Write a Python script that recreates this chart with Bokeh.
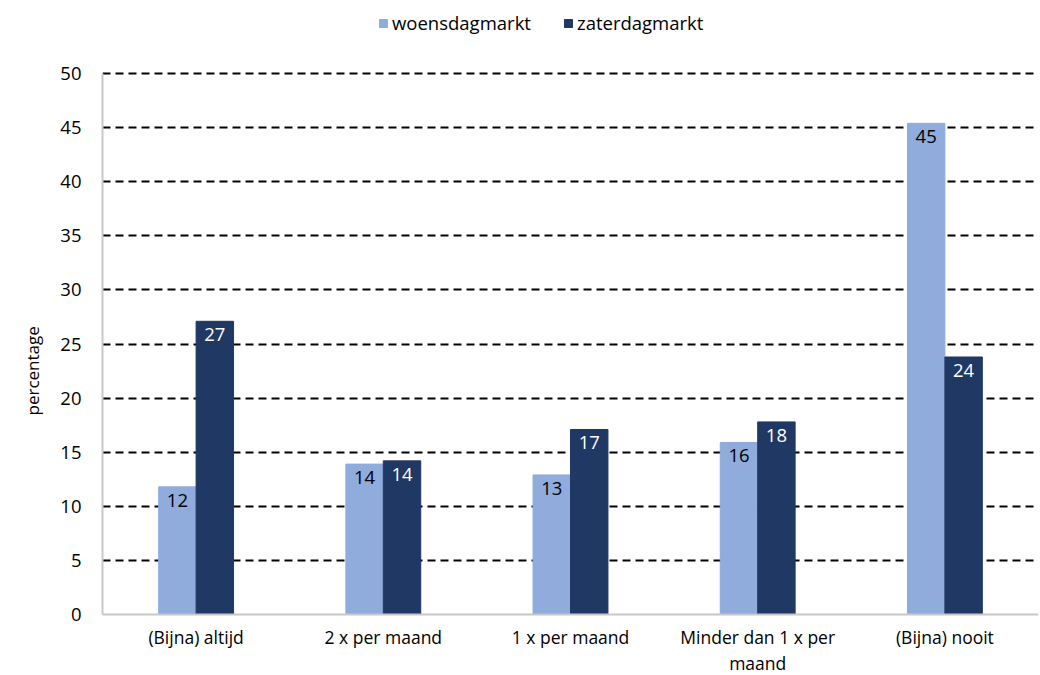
from bokeh.plotting import figure
from bokeh.models import (ColumnDataSource, FactorRange, Legend, LegendItem, FixedTicker, Title)
from bokeh.transform import dodge
from bokeh.core.properties import value
from bokeh.embed import file_html
from bokeh.resources import INLINE

categories = ["(Bijna) altijd", "2 x per maand", "1 x per maand", "Minder dan 1 x per\nmaand", "(Bijna) nooit"]
woensdagmarkt = [11.8, 13.9, 12.9, 15.9, 45.4]
zaterdagmarkt = [27.1, 14.2, 17.1, 17.8, 23.8]
series_names = ["woensdagmarkt", "zaterdagmarkt"]
y_ticks = [0, 5, 10, 15, 20, 25, 30, 35, 40, 45, 50]
colors = ["#8FACDC", "#203864"]
label_colors = ["#000000", "#FFFFFF"]

FONT = "Open Sans"
FS = "18.5px"

src = ColumnDataSource(dict(
    cat=categories,
    w=woensdagmarkt,
    z=zaterdagmarkt,
    wl=[str(round(v)) for v in woensdagmarkt],
    zl=[str(round(v)) for v in zaterdagmarkt],
))

p = figure(x_range=FactorRange(*categories), y_range=(0, 56.75),
           frame_width=936, frame_height=614, output_backend="svg", toolbar_location=None,
           min_border_left=102, min_border_right=0, min_border_top=0, min_border_bottom=58)
p.outline_line_color = None
p.background_fill_color = "white"

r1 = p.vbar(x=dodge("cat", -0.1, range=p.x_range), top="w", width=0.2, source=src,
            fill_color=colors[0], line_color=colors[0])
r2 = p.vbar(x=dodge("cat", 0.1, range=p.x_range), top="z", width=0.2, source=src,
            fill_color=colors[1], line_color=colors[1])

p.text(x=dodge("cat", -0.1, range=p.x_range), y="w", text="wl", source=src,
       text_align="center", text_baseline="top", y_offset=7,
       text_font=value(FONT), text_font_size=FS, text_color=label_colors[0])
p.text(x=dodge("cat", 0.1, range=p.x_range), y="z", text="zl", source=src,
       text_align="center", text_baseline="top", y_offset=7,
       text_font=value(FONT), text_font_size=FS, text_color=label_colors[1])

p.yaxis.ticker = FixedTicker(ticks=y_ticks)
p.yaxis.bounds = (y_ticks[0], y_ticks[-1])
p.ygrid.ticker = FixedTicker(ticks=y_ticks[1:])
p.ygrid.grid_line_color = "black"
p.ygrid.grid_line_dash = "8 5"
p.ygrid.grid_line_width = 2
p.xgrid.grid_line_color = None

for ax in (p.xaxis, p.yaxis):
    ax.axis_line_color = "#C8C8C8"
    ax.axis_line_width = 2
    ax.major_tick_line_color = None
    ax.minor_tick_line_color = None
    ax.major_label_text_font = FONT
    ax.major_label_text_font_size = FS
    ax.major_label_text_color = "#000000"

p.xaxis.major_label_text_font_size = "17.5px"
p.xaxis.major_label_text_line_height = 1.1
p.xaxis.major_label_standoff = 4
p.yaxis.major_label_standoff = 15

ytitle = Title(text="percentage", align="left", offset=199,
               text_font=FONT, text_font_size="17px", text_font_style="normal",
               text_color="#000000", standoff=28)
p.add_layout(ytitle, "left")

legend = Legend(items=[LegendItem(label=series_names[0], renderers=[r1]),
                       LegendItem(label=series_names[1], renderers=[r2])],
                orientation="horizontal", location=(276, 579),
                glyph_width=10, glyph_height=10, label_text_font=FONT,
                label_text_font_size=FS, label_text_color="#000000",
                spacing=32, label_standoff=4,
                border_line_color=None, background_fill_alpha=0, margin=0, padding=0)
p.add_layout(legend, "center")

open("out.html", "w").write(file_html(p, INLINE))
